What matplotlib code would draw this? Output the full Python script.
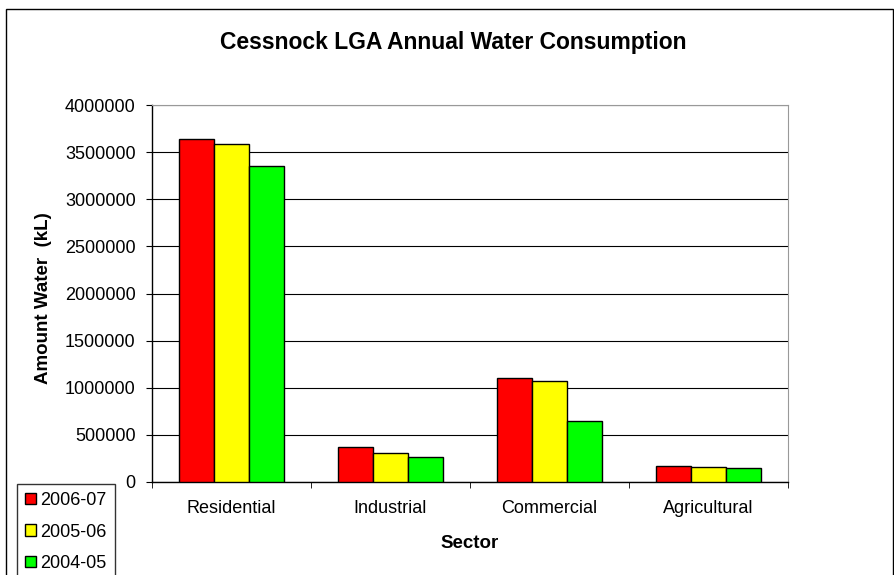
import matplotlib
matplotlib.use("Agg")
import matplotlib.pyplot as plt
from matplotlib.patches import Rectangle
import numpy as np

plt.rcParams['font.family'] = ['Liberation Sans', 'DejaVu Sans']

# Data
sectors = ["Residential", "Industrial", "Commercial", "Agricultural"]
years = ["2006-07", "2005-06", "2004-05"]
use_0607 = [3640000, 375000, 1101000, 170000]
use_0506 = [3585000, 311000, 1072000, 156000]
use_0405 = [3351000, 265000, 648000, 145000]
colors = ["#ff0000", "#ffff00", "#00ff00"]
yticks = list(range(0, 4000001, 500000))

fig = plt.figure(figsize=(8.95, 5.75), dpi=100)
ax = fig.add_axes([152 / 895, 1 - 482 / 575, 636 / 895, 377 / 575])

x = np.arange(len(sectors))
w = 0.22
for i, (vals, lab, c) in enumerate(zip([use_0607, use_0506, use_0405], years, colors)):
    ax.bar(x + (i - 1) * w, vals, width=w, color=c, edgecolor="black", linewidth=1,
           label=lab, zorder=3)

ax.set_xlim(-0.5, len(sectors) - 0.5)
ax.set_ylim(0, 4000000)
ax.set_yticks(yticks)
ax.set_yticklabels([str(v) for v in yticks], fontsize=13)
ax.yaxis.grid(True, color="black", linewidth=0.8, zorder=0)
ax.set_axisbelow(True)

ax.set_xticks(x)
ax.set_xticklabels(sectors, fontsize=13)
ax.tick_params(axis="x", which="major", length=0, pad=13)
ax.set_xticks(np.arange(-0.5, len(sectors), 1), minor=True)
ax.tick_params(axis="x", which="minor", length=4.3, direction="out", color="black")
ax.tick_params(axis="y", length=4.3, direction="out", pad=7.5)

for s in ["left", "bottom"]:
    ax.spines[s].set_color("black")
    ax.spines[s].set_linewidth(1)
ax.spines["top"].set_color("#999999")
ax.spines["right"].set_color("#999999")

# axis titles placed in figure coords to match the reference
fig.text(470 / 895, 1 - 543 / 575, "Sector", ha="center", va="center",
         fontsize=13.5, fontweight="bold")
fig.text(44 / 895, 1 - 298 / 575, "Amount Water  (kL)", ha="center", va="center",
         rotation=90, fontsize=13.5, fontweight="bold")

fig.text(453 / 895, 1 - 43 / 575, "Cessnock LGA Annual Water Consumption",
         ha="center", va="center", fontsize=16.5, fontweight="bold")

leg = fig.legend(loc="upper left", bbox_to_anchor=(17 / 895, 1 - 484 / 575),
                 fontsize=13, frameon=True, fancybox=False, handlelength=0.6,
                 handleheight=0.6, handletextpad=0.25, labelspacing=0.8,
                 borderpad=0.45, borderaxespad=0)
leg.get_frame().set_edgecolor("black")
leg.get_frame().set_linewidth(1)

# outer chart border, runs off the bottom edge like the reference
fig.patches.append(Rectangle((6 / 895, -0.1), 887 / 895, 1 - 9 / 575 + 0.1,
                             transform=fig.transFigure, fill=False,
                             edgecolor="black", linewidth=1))

fig.savefig("out.png", dpi=100)
